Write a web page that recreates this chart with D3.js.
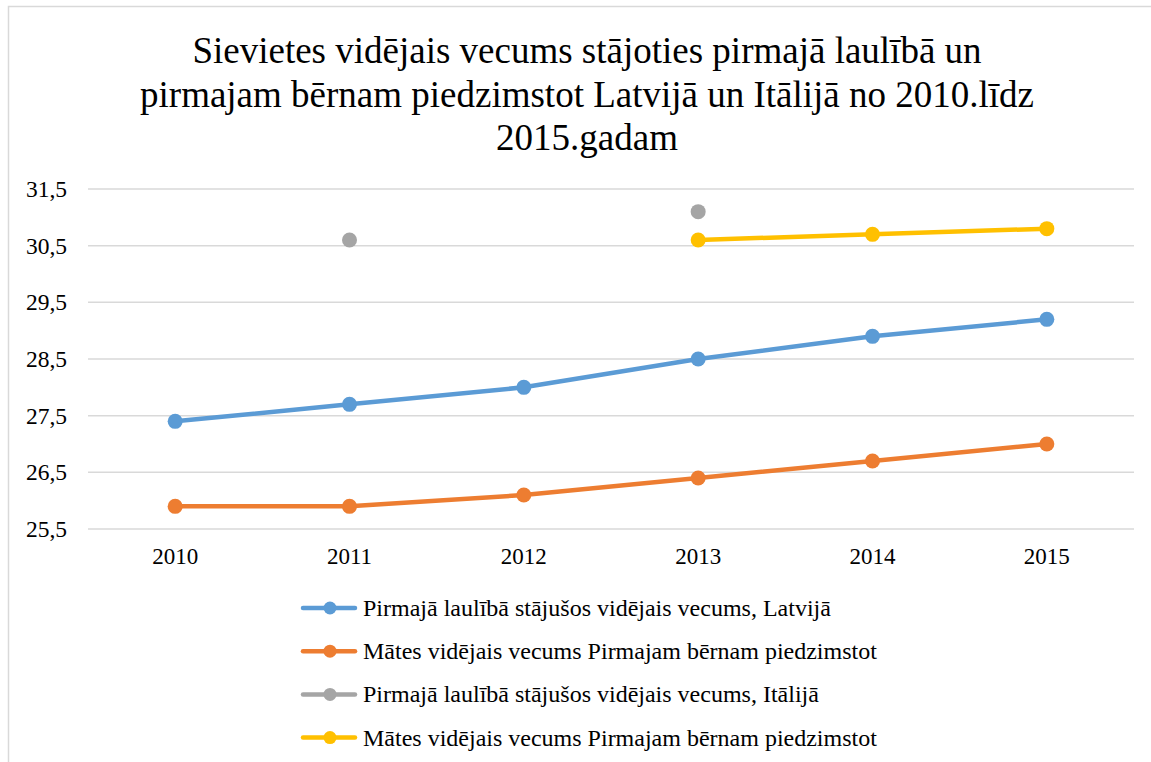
<!DOCTYPE html>
<html>
<head>
<meta charset="utf-8">
<script src="https://cdn.jsdelivr.net/npm/d3@7"></script>
<style>
  body { margin: 0; background: #fff; }
  svg { font-family: "Liberation Serif", "Times New Roman", serif; }
</style>
</head>
<body>
<div id="chart"></div>
<script>
// data
var years = ["2010", "2011", "2012", "2013", "2014", "2015"];
var yTicks = [25.5, 26.5, 27.5, 28.5, 29.5, 30.5, 31.5];
var titleLines = [
  "Sievietes vidējais vecums stājoties pirmajā laulībā un",
  "pirmajam bērnam piedzimstot Latvijā un Itālijā no 2010.līdz",
  "2015.gadam"
];
var latviaMarriage = [27.4, 27.7, 28.0, 28.5, 28.9, 29.2];
var latviaMother = [25.9, 25.9, 26.1, 26.4, 26.7, 27.0];
var italyMarriage = [null, 30.6, null, 31.1, null, null];
var italyMother = [null, null, null, 30.6, 30.7, 30.8];
var seriesNames = [
  "Pirmajā laulībā stājušos vidējais vecums, Latvijā",
  "Mātes vidējais vecums Pirmajam bērnam piedzimstot",
  "Pirmajā laulībā stājušos vidējais vecums, Itālijā",
  "Mātes vidējais vecums Pirmajam bērnam piedzimstot"
];
var colors = ["#5B9BD5", "#ED7D31", "#A5A5A5", "#FFC000"];

var series = [latviaMarriage, latviaMother, italyMarriage, italyMother].map(function (vals, i) {
  return { name: seriesNames[i], color: colors[i], values: vals };
});

var W = 1151, H = 762;
var margin = { top: 189, right: 17, bottom: 233, left: 88 };
var width = W - margin.left - margin.right,
  height = H - margin.top - margin.bottom;

var svg = d3.select("#chart").append("svg")
  .attr("width", W)
  .attr("height", H);

// chart border (top and left visible)
svg.append("path")
  .attr("d", "M8.5," + H + "V6.5H" + W)
  .attr("fill", "none")
  .attr("stroke", "#d9d9d9")
  .attr("stroke-width", 1.5);

// title
svg.append("text")
  .attr("text-anchor", "middle")
  .attr("font-size", 37)
  .attr("fill", "#000")
  .selectAll("tspan")
  .data(titleLines)
  .enter().append("tspan")
  .attr("x", 587)
  .attr("y", function (d, i) { return 63 + i * 43.5; })
  .text(function (d) { return d; });

var g = svg.append("g")
  .attr("transform", "translate(" + margin.left + "," + margin.top + ")");

var x = d3.scaleBand().domain(years).range([0, width]);
var y = d3.scaleLinear().domain([25.5, 31.5]).range([height, 0]);

// gridlines
g.append("g")
  .selectAll("line")
  .data(yTicks)
  .enter().append("line")
  .attr("x1", 0)
  .attr("x2", width)
  .attr("y1", function (d) { return y(d); })
  .attr("y2", function (d) { return y(d); })
  .attr("stroke", "#d9d9d9")
  .attr("stroke-width", 1.5);

// y axis
var yAxis = g.append("g")
  .attr("transform", "translate(-21,0)")
  .call(d3.axisLeft(y).tickValues(yTicks).tickSize(0).tickPadding(0)
    .tickFormat(function (d) { return d3.format(".1f")(d).replace(".", ","); }));
yAxis.select(".domain").remove();
yAxis.selectAll("text")
  .attr("font-family", "Liberation Serif, serif")
  .attr("font-size", 23.5)
  .attr("fill", "#000");

// x axis
var xAxis = g.append("g")
  .attr("transform", "translate(0," + height + ")")
  .call(d3.axisBottom(x).tickSize(0).tickPadding(19));
xAxis.select(".domain").remove();
xAxis.selectAll("text")
  .attr("font-family", "Liberation Serif, serif")
  .attr("font-size", 23)
  .attr("fill", "#000");

var cx = function (i) { return x(years[i]) + x.bandwidth() / 2; };

var line = d3.line()
  .defined(function (d) { return d != null; })
  .x(function (d, i) { return cx(i); })
  .y(function (d) { return y(d); });

series.forEach(function (s) {
  g.append("path")
    .datum(s.values)
    .attr("fill", "none")
    .attr("stroke", s.color)
    .attr("stroke-width", 4.5)
    .attr("stroke-linejoin", "round")
    .attr("stroke-linecap", "round")
    .attr("d", line);

  g.append("g")
    .selectAll("circle")
    .data(s.values.map(function (v, i) { return { v: v, i: i }; }).filter(function (d) { return d.v != null; }))
    .enter().append("circle")
    .attr("cx", function (d) { return cx(d.i); })
    .attr("cy", function (d) { return y(d.v); })
    .attr("r", 7.5)
    .attr("fill", s.color);
});

// legend
var legend = svg.append("g");
var items = legend.selectAll("g")
  .data(series)
  .enter().append("g")
  .attr("transform", function (d, i) { return "translate(303," + (608 + i * 43.2) + ")"; });

items.append("line")
  .attr("x1", 0).attr("x2", 52)
  .attr("stroke", function (d) { return d.color; })
  .attr("stroke-width", 4.5)
  .attr("stroke-linecap", "round");

items.append("circle")
  .attr("cx", 27)
  .attr("r", 6.5)
  .attr("fill", function (d) { return d.color; });

items.append("text")
  .attr("x", 60)
  .attr("y", 8)
  .attr("font-size", 24)
  .attr("fill", "#000")
  .text(function (d) { return d.name; });
</script>
</body>
</html>
